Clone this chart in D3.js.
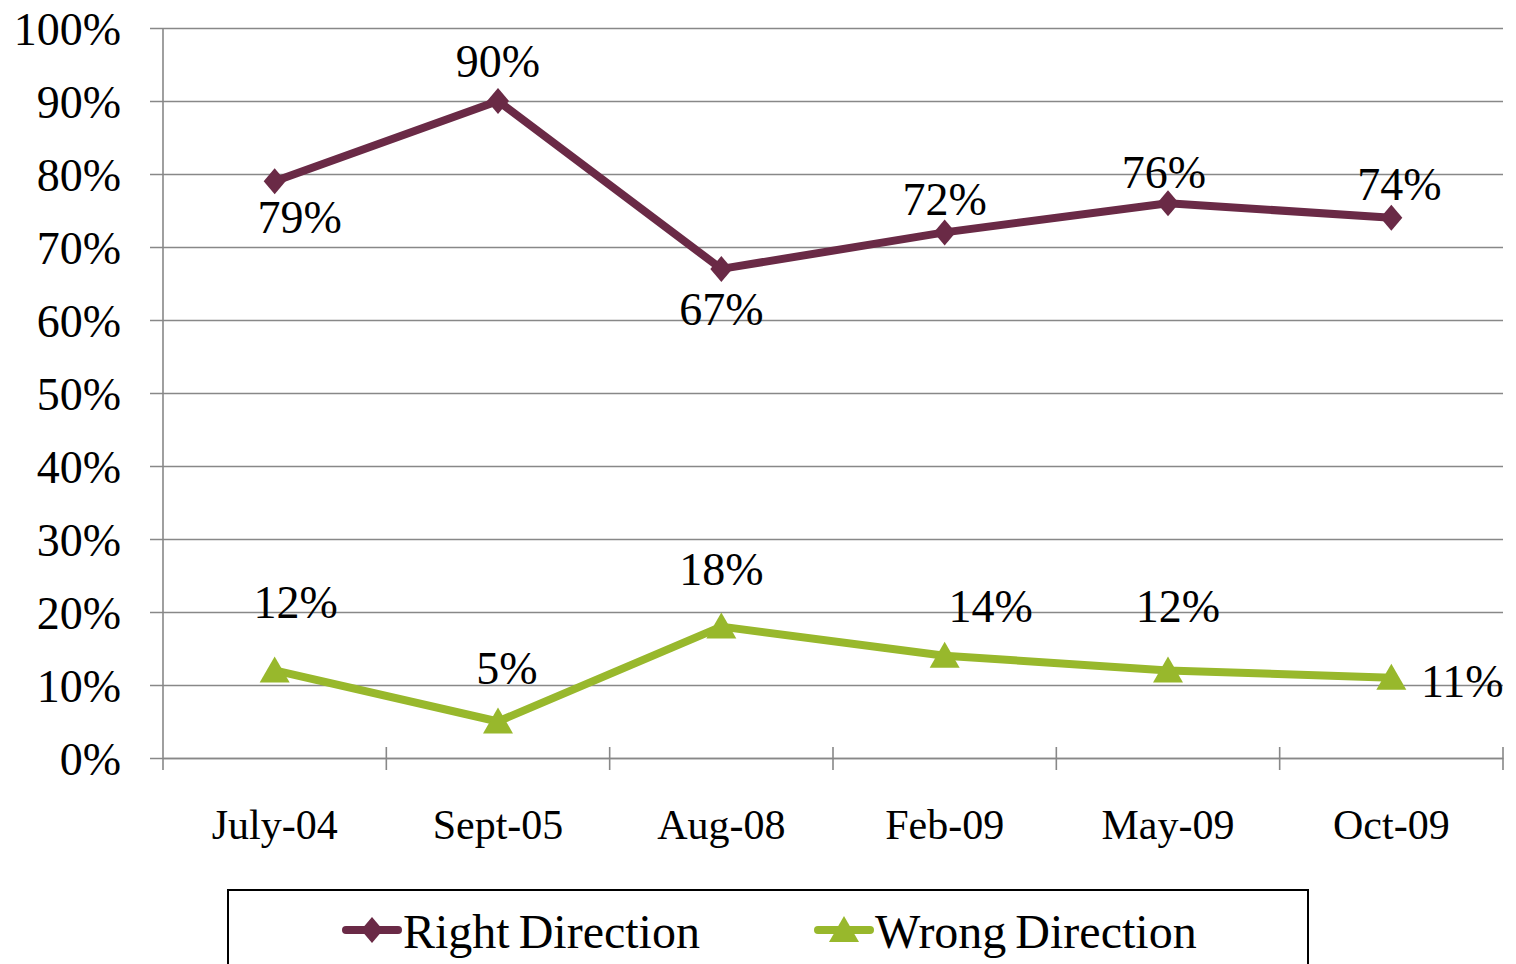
<!DOCTYPE html>
<html>
<head>
<meta charset="utf-8">
<script src="https://cdn.jsdelivr.net/npm/d3@7"></script>
<style>
  body { margin: 0; background: #fff; }
  text { font-family: "Liberation Serif", "Times New Roman", serif; fill: #000; }
</style>
</head>
<body>
<div id="chart-area"></div>
<script>
const categories = ["July-04", "Sept-05", "Aug-08", "Feb-09", "May-09", "Oct-09"]
const rightDirection = [79, 90, 67, 72, 76, 74]
const wrongDirection = [12, 5, 18, 14, 12, 11]
const yTicks = [0, 10, 20, 30, 40, 50, 60, 70, 80, 90, 100]

// label nudges (dx, dy from the point), set by hand like in the original
const rightLabelOffsets = [[25, 52], [0, -24], [0, 56], [0, -17], [-4, -15], [8, -18]]
const wrongLabelOffsets = [[21, -52], [9, -38], [0, -42], [46, -34], [10, -48], [71, 19]]

const MARGIN = { LEFT: 163, TOP: 28 }
const WIDTH = 1503 - 163
const HEIGHT = 758 - 28

const svg = d3.select("#chart-area").append("svg")
	.attr("width", 1516)
	.attr("height", 964)

const g = svg.append("g")
	.attr("transform", `translate(${MARGIN.LEFT}, ${MARGIN.TOP})`)

const x = d3.scaleBand().domain(categories).range([0, WIDTH])
const y = d3.scaleLinear().domain([0, 100]).range([HEIGHT, 0])
const cx = d => x(d) + x.bandwidth() / 2

// gridlines + y axis
const yAxis = g.append("g")
	.call(d3.axisLeft(y).tickValues(yTicks).tickSize(-WIDTH).tickPadding(40).tickFormat(d => d + "%"))
yAxis.select(".domain").remove()
yAxis.selectAll(".tick line")
	.attr("x1", -13)
	.attr("stroke", "#888")
	.attr("stroke-width", 1.6)
yAxis.selectAll(".tick text")
	.attr("font-size", "46px")
	.attr("x", -42)
	.attr("dy", "0.36em")
	.style("font-family", "'Liberation Serif', serif")
	.attr("fill", "#000")

g.append("line")
	.attr("x1", 0).attr("x2", 0)
	.attr("y1", 0).attr("y2", HEIGHT + 12)
	.attr("stroke", "#888").attr("stroke-width", 1.6)

// x axis
const xAxis = g.append("g")
	.attr("transform", `translate(0, ${HEIGHT})`)
	.call(d3.axisBottom(x).tickSize(0).tickPadding(51))
xAxis.select(".domain").attr("stroke", "#888").attr("stroke-width", 1.6)
xAxis.selectAll(".tick text")
	.attr("font-size", "42px")
	.style("font-family", "'Liberation Serif', serif")
	.attr("fill", "#000")

const boundaries = categories.map(c => x(c)).concat([WIDTH])
g.selectAll(".xtick").data(boundaries.slice(1)).enter().append("line")
	.attr("class", "xtick")
	.attr("x1", d => d).attr("x2", d => d)
	.attr("y1", HEIGHT - 11).attr("y2", HEIGHT + 12)
	.attr("stroke", "#888").attr("stroke-width", 1.6)

const line = d3.line().x((d, i) => cx(categories[i])).y(d => y(d))

const diamond = "M0,-13L11,0L0,13L-11,0Z"
const triangle = "M0,-14L15,12L-15,12Z"

function drawSeries(values, color, marker, offsets) {
	g.append("path")
		.datum(values)
		.attr("d", line)
		.attr("fill", "none")
		.attr("stroke", color)
		.attr("stroke-width", 8)
		.attr("stroke-linejoin", "round")

	g.selectAll(null).data(values).enter().append("path")
		.attr("d", marker)
		.attr("transform", (d, i) => `translate(${cx(categories[i])}, ${y(d)})`)
		.attr("fill", color)

	g.selectAll(null).data(values).enter().append("text")
		.attr("x", (d, i) => cx(categories[i]) + offsets[i][0])
		.attr("y", (d, i) => y(d) + offsets[i][1])
		.attr("text-anchor", "middle")
		.attr("font-size", "46px")
		.text(d => d + "%")
}

drawSeries(rightDirection, "#6a2a46", diamond, rightLabelOffsets)
drawSeries(wrongDirection, "#98b82c", triangle, wrongLabelOffsets)

// legend
const legend = svg.append("g")
legend.append("rect")
	.attr("x", 228).attr("y", 890)
	.attr("width", 1080).attr("height", 100)
	.attr("fill", "none")
	.attr("stroke", "#000")
	.attr("stroke-width", 2)

const legendItems = [
	{ name: "Right Direction", color: "#6a2a46", marker: diamond, x: 346 },
	{ name: "Wrong Direction", color: "#98b82c", marker: triangle, x: 818 }
]
const items = legend.selectAll(".item").data(legendItems).enter().append("g")
	.attr("transform", d => `translate(${d.x}, 930)`)
items.append("line")
	.attr("x1", 0).attr("x2", 52)
	.attr("stroke", d => d.color)
	.attr("stroke-width", 8)
	.attr("stroke-linecap", "round")
items.append("path")
	.attr("d", d => d.marker)
	.attr("transform", "translate(26, 0)")
	.attr("fill", d => d.color)
items.append("text")
	.attr("x", 57)
	.attr("y", 18)
	.attr("font-size", "48px")
	.attr("word-spacing", "-3px")
	.text(d => d.name)
</script>
</body>
</html>
